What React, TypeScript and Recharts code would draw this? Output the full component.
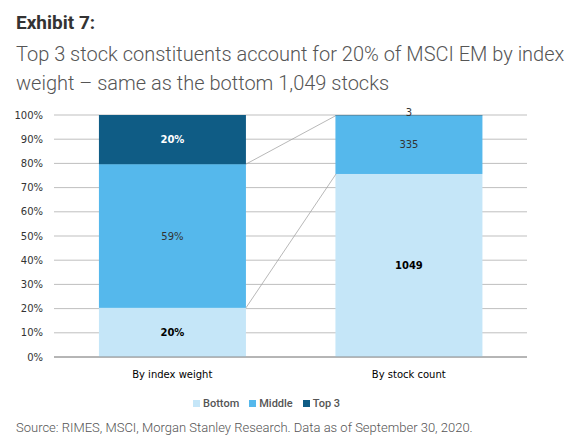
import React from 'react';
import {
  BarChart,
  Bar,
  XAxis,
  YAxis,
  CartesianGrid,
  LabelList,
} from 'recharts';

const categories = ['By index weight', 'By stock count'];
const bottomValues = [20.3, 1049];
const middleValues = [59.4, 335];
const top3Values = [20.3, 3];
const valueSuffix = ['%', ''];
const yTicks = [0, 0.1, 0.2, 0.3, 0.4, 0.5, 0.6, 0.7, 0.8, 0.9, 1];
const seriesNames = ['Bottom', 'Middle', 'Top 3'];
const seriesColors = ['#C5E6F8', '#55B8EC', '#0F5C85'];

const GAP = 0.19;

const fmt = (v: number, i: number) => `${Math.round(v)}${valueSuffix[i]}`;

const data = categories.map((c, i) => ({
  name: c,
  bottom: bottomValues[i],
  middle: middleValues[i],
  top3: top3Values[i],
  bottomLabel: fmt(bottomValues[i], i),
  middleLabel: fmt(middleValues[i], i),
  top3Label: fmt(top3Values[i], i),
}));

const totals = categories.map((_, i) => bottomValues[i] + middleValues[i] + top3Values[i]);
const lowerBoundary = categories.map((_, i) => bottomValues[i] / totals[i]);
const upperBoundary = categories.map((_, i) => (bottomValues[i] + middleValues[i]) / totals[i]);

const chartFont = 'DejaVu Sans, sans-serif';

const makeLabel = (fill: string, weight: string, smallFill: string, smallWeight: string) => (props: any) => {
  const { x, y, width, height, value } = props;
  if (value === undefined || value === null || value === '') return null;
  const cx = Number(x) + Number(width) / 2;
  if (Math.abs(Number(height)) < 10) {
    return (
      <text x={cx} y={Number(y) + 1} textAnchor="middle" fill={smallFill} fontWeight={smallWeight} fontSize={10} fontFamily={chartFont}>
        {value}
      </text>
    );
  }
  return (
    <text
      x={cx}
      y={Number(y) + Number(height) / 2}
      textAnchor="middle"
      dominantBaseline="central"
      fill={fill}
      fontWeight={weight}
      fontSize={10}
      fontFamily={chartFont}
    >
      {value}
    </text>
  );
};

// Middle-series shape: draws the bar and, on the first bar, the series lines
// connecting the boundaries of the middle segment to the next bar.
const MiddleShape = (props: any) => {
  const { x, y, width, height, fill, index } = props;
  const bx = Number(x);
  const by = Number(y);
  const bw = Number(width);
  const bh = Number(height);
  const elems: React.ReactNode[] = [
    <rect key="r" x={bx} y={by} width={bw} height={bh} fill={fill} />,
  ];
  if (index === 0 && bh > 0) {
    const pxPerUnit = bh / (upperBoundary[0] - lowerBoundary[0]);
    const zeroY = by + bh + lowerBoundary[0] * pxPerUnit;
    const toY = (f: number) => zeroY - f * pxPerUnit;
    const x1 = bx + bw;
    const x2 = x1 + (bw * 2 * GAP) / (1 - 2 * GAP);
    elems.push(
      <line key="u" x1={x1} y1={toY(upperBoundary[0])} x2={x2} y2={toY(upperBoundary[1])} stroke="#A6A6A6" strokeWidth={0.8} />,
      <line key="l" x1={x1} y1={toY(lowerBoundary[0])} x2={x2} y2={toY(lowerBoundary[1])} stroke="#A6A6A6" strokeWidth={0.8} />,
    );
  }
  return <g>{elems}</g>;
};

export default function App() {
  return (
    <div style={{ position: 'absolute', left: 0, top: 0, width: 580, height: 448, background: '#fff', overflow: 'hidden' }}>
      <BarChart
        width={580}
        height={400}
        data={data}
        stackOffset="expand"
        barCategoryGap={`${GAP * 100}%`}
        margin={{ top: 115, right: 53, bottom: 13, left: 14 }}
      >
        <CartesianGrid vertical={false} stroke="#BFBFBF" strokeWidth={1} />
        <XAxis
          dataKey="name"
          axisLine={{ stroke: '#8C8C8C' }}
          tickLine={false}
          tickSize={0}
          tickMargin={14}
          height={30}
          tick={{ fill: '#000', fontSize: 10, fontFamily: chartFont }}
        />
        <YAxis
          width={40}
          domain={[0, 1]}
          ticks={yTicks}
          axisLine={false}
          tickLine={false}
          tickSize={0}
          tickMargin={11}
          tickFormatter={(v: number) => `${Math.round(v * 100)}%`}
          tick={{ fill: '#333', fontSize: 10, fontFamily: chartFont }}
        />
        <Bar dataKey="bottom" stackId="s" fill={seriesColors[0]} isAnimationActive={false} name={seriesNames[0]}>
          <LabelList dataKey="bottomLabel" content={makeLabel('#000', 'bold', '#000', 'bold')} />
        </Bar>
        <Bar dataKey="middle" stackId="s" fill={seriesColors[1]} isAnimationActive={false} name={seriesNames[1]} shape={<MiddleShape />}>
          <LabelList dataKey="middleLabel" content={makeLabel('#333', 'normal', '#333', 'normal')} />
        </Bar>
        <Bar dataKey="top3" stackId="s" fill={seriesColors[2]} isAnimationActive={false} name={seriesNames[2]}>
          <LabelList dataKey="top3Label" content={makeLabel('#fff', 'bold', '#333', 'normal')} />
        </Bar>
      </BarChart>

      <div style={{ position: 'absolute', left: 16, top: 13, fontFamily: 'Roboto, sans-serif', fontWeight: 700, fontSize: 19, lineHeight: '19px', color: '#333', whiteSpace: 'nowrap' }}>
        Exhibit 7:
      </div>
      <div style={{ position: 'absolute', left: 16, top: 40, width: 560, fontFamily: 'Roboto, sans-serif', fontWeight: 300, fontSize: 20, lineHeight: '29px', color: '#555' }}>
        <div style={{ whiteSpace: 'nowrap' }}>Top 3 stock constituents account for 20% of MSCI EM by index</div>
        <div style={{ whiteSpace: 'nowrap' }}>weight – same as the bottom 1,049 stocks</div>
      </div>

      <div style={{ position: 'absolute', left: 193, top: 396, height: 14, display: 'flex', alignItems: 'center', fontFamily: 'Roboto, sans-serif', fontWeight: 500, fontSize: 11, color: '#555', whiteSpace: 'nowrap' }}>
        {seriesNames.map((n, i) => (
          <div key={n} style={{ display: 'flex', alignItems: 'center', marginRight: 10 }}>
            <span style={{ display: 'inline-block', width: 7, height: 7, background: seriesColors[i], marginRight: 3 }} />
            <span>{n}</span>
          </div>
        ))}
      </div>

      <div style={{ position: 'absolute', left: 16, top: 421, fontFamily: 'Roboto, sans-serif', fontWeight: 300, fontSize: 13, lineHeight: '13px', color: '#555', whiteSpace: 'nowrap' }}>
        Source: RIMES, MSCI, Morgan Stanley Research. Data as of September 30, 2020.
      </div>
    </div>
  );
}
